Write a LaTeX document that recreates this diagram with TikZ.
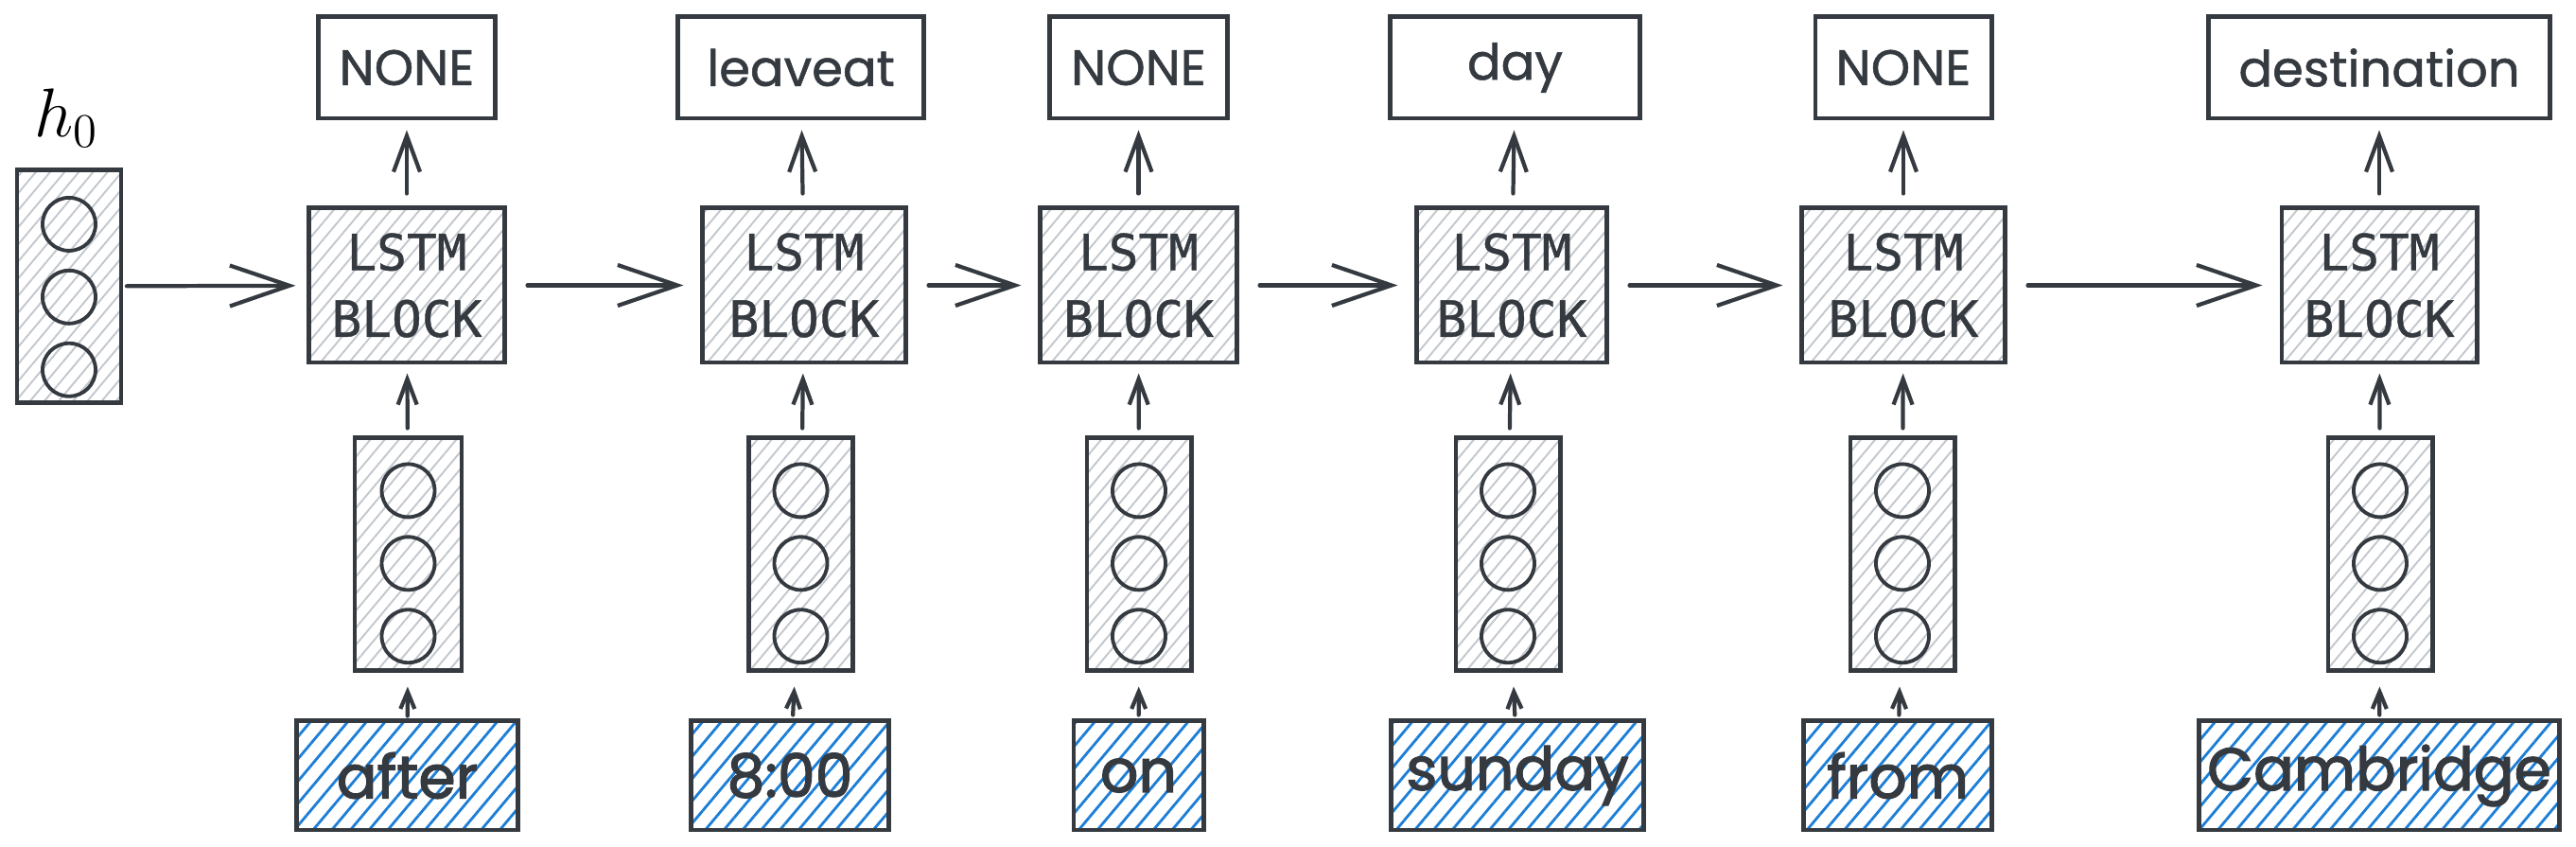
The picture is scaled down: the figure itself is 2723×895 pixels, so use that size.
\documentclass[tikz,border=0pt]{standalone}
\usepackage{fontspec}
\usepackage{tikz}
\usetikzlibrary{arrows.meta, positioning, patterns.meta}
\newfontfamily\handfont{Poppins}[FakeBold=1]
\newfontfamily\wordfont{Poppins}[FakeBold=2]
\newfontfamily\blockfont{DejaVu Sans Mono}[FakeBold=0.8]
\definecolor{ink}{HTML}{343A40}
\definecolor{hatchgray}{HTML}{C3C8CE}
\definecolor{hatchblue}{HTML}{1C7ED6}
\tikzset{
  outbox/.style={
    rectangle, draw=ink, line width=1.4pt, fill=white,
    minimum height=1.07cm, inner sep=0pt, text=ink,
    font=\handfont\fontsize{15}{18}\selectfont
  },
  lstm/.style={
    rectangle, draw=ink, line width=1.4pt,
    pattern={Lines[angle=50,distance=3.3pt,line width=0.55pt]},
    pattern color=hatchgray,
    minimum width=2.07cm, minimum height=1.63cm, inner sep=0pt,
    align=center, text=ink, font=\blockfont\fontsize{15}{20}\selectfont
  },
  vecbox/.style={
    rectangle, draw=ink, line width=1.4pt,
    pattern={Lines[angle=50,distance=3.3pt,line width=0.55pt]},
    pattern color=hatchgray,
    minimum width=1.10cm, minimum height=2.45cm, inner sep=0pt
  },
  cell/.style={
    circle, draw=ink, line width=1.1pt,
    minimum size=0.56cm, inner sep=0pt
  },
  wordbox/.style={
    rectangle, draw=ink, line width=1.4pt,
    pattern={Lines[angle=50,distance=4.3pt,line width=0.8pt]},
    pattern color=hatchblue,
    minimum height=1.15cm, inner sep=0pt, text=ink,
    font=\wordfont\fontsize{18}{22}\selectfont
  },
  flow/.style={-{Straight Barb[length=0.63cm,width=0.43cm]}, line width=1.2pt,
    draw=ink, line cap=round, shorten <=0.22cm, shorten >=0.18cm},
  upflow/.style={-{Straight Barb[length=0.38cm,width=0.28cm]}, line width=1.2pt,
    draw=ink, line cap=round, shorten <=0.13cm, shorten >=0.10cm},
  feed/.style={-{Straight Barb[length=0.27cm,width=0.20cm]}, line width=1.2pt,
    draw=ink, line cap=round, shorten <=0.08cm, shorten >=0.09cm},
  feedsmall/.style={-{Straight Barb[length=0.18cm,width=0.15cm]}, line width=1.2pt,
    draw=ink, line cap=round, shorten <=0.04cm, shorten >=0.15cm}
}

\begin{document}
\begin{tikzpicture}[x=0.01cm, y=-0.01cm]
  \useasboundingbox (0,0) rectangle (2723,895);

  % initial state
  \node[anchor=base, font=\fontsize{21}{25}\selectfont] (h0) at (70,145) {$h_0$};
  \node[vecbox] (h0vec) at (73,302.5) {};

  % LSTM blocks
  \node[lstm, minimum width=2.06cm] (lstm1) at (430,301.5) {LSTM\\BLOCK};
  \node[lstm, minimum width=2.14cm] (lstm2) at (850,301.5) {LSTM\\BLOCK};
  \node[lstm] (lstm3) at (1203.5,301.5) {LSTM\\BLOCK};
  \node[lstm, minimum width=2.00cm] (lstm4) at (1598,301.5) {LSTM\\BLOCK};
  \node[lstm, minimum width=2.14cm] (lstm5) at (2012,301.5) {LSTM\\BLOCK};
  \node[lstm, minimum width=2.06cm] (lstm6) at (2515,301.5) {LSTM\\BLOCK};

  % predicted slots
  \node[outbox, minimum width=1.86cm] (out1) at (430,71.5) {NONE};
  \node[outbox, minimum width=2.59cm] (out2) at (846.5,71.5) {leaveat};
  \node[outbox, minimum width=1.87cm] (out3) at (1203.5,71.5) {NONE};
  \node[outbox, minimum width=2.63cm] (out4) at (1601.5,71.5) {day};
  \node[outbox, minimum width=1.86cm] (out5) at (2012,71.5) {NONE};
  \node[outbox, minimum width=3.60cm] (out6) at (2515,71.5) {destination};

  % word embeddings
  \node[vecbox, minimum width=1.13cm] (emb1) at (431.5,585.5) {};
  \node[vecbox] (emb2) at (846.5,585.5) {};
  \node[vecbox] (emb3) at (1204,585.5) {};
  \node[vecbox] (emb4) at (1594,585.5) {};
  \node[vecbox] (emb5) at (2011,585.5) {};
  \node[vecbox] (emb6) at (2516,585.5) {};

  % input words
  \node[wordbox, minimum width=2.33cm] (w1) at (430.5,819.5) {after};
  \node[wordbox, minimum width=2.08cm] (w2) at (835,819.5) {8:00};
  \node[wordbox, minimum width=1.37cm] (w3) at (1203.5,819.5) {on};
  \node[wordbox, minimum width=2.66cm] (w4) at (1604,819.5) {sunday};
  \node[wordbox, minimum width=1.98cm] (w5) at (2006,819.5) {from};
  \node[wordbox, minimum width=3.80cm] (w6) at (2515,819.5) {Cambridge};

  \foreach \v in {h0vec,emb1,emb2,emb3,emb4,emb5,emb6} {
    \node[cell, below=0.28cm of \v.north] (\v-a) {};
    \node[cell, below=0.17cm of \v-a] (\v-b) {};
    \node[cell, below=0.17cm of \v-b] (\v-c) {};
  }

  % recurrence
  \draw[flow, shorten <=0.05cm, shorten >=0.12cm] (h0vec) -- (lstm1);
  \draw[flow] (lstm1) -- (lstm2);
  \draw[flow] (lstm2) -- (lstm3);
  \draw[flow] (lstm3) -- (lstm4);
  \draw[flow] (lstm4) -- (lstm5);
  \draw[flow] (lstm5) -- (lstm6);

  % outputs
  \draw[upflow] (lstm1) -- (out1);
  \draw[upflow] (lstm2) -- (out2);
  \draw[upflow] (lstm3) -- (out3);
  \draw[upflow] (lstm4) -- (out4);
  \draw[upflow] (lstm5) -- (out5);
  \draw[upflow] (lstm6) -- (out6);

  % inputs
  \draw[feed] (emb1) -- (lstm1);
  \draw[feed] (emb2) -- (lstm2);
  \draw[feed] (emb3) -- (lstm3);
  \draw[feed] (emb4) -- (lstm4);
  \draw[feed] (emb5) -- (lstm5);
  \draw[feed] (emb6) -- (lstm6);
  \draw[feedsmall] (w1) -- (emb1);
  \draw[feedsmall] (w2) -- (emb2);
  \draw[feedsmall] (w3) -- (emb3);
  \draw[feedsmall] (w4) -- (emb4);
  \draw[feedsmall] (w5) -- (emb5);
  \draw[feedsmall] (w6) -- (emb6);
\end{tikzpicture}
\end{document}
